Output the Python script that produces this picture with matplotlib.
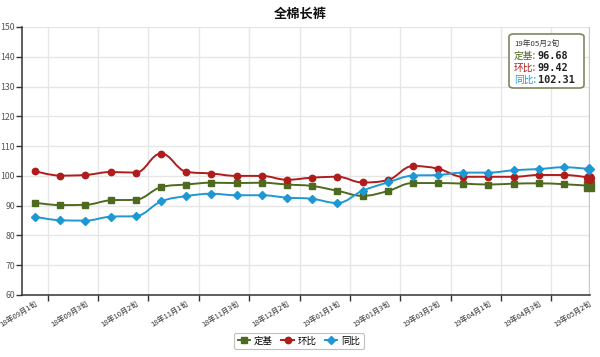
import numpy as np
import matplotlib
matplotlib.use("Agg")
import matplotlib.pyplot as plt
from matplotlib.path import Path
from matplotlib.patches import PathPatch, FancyBboxPatch
from matplotlib.lines import Line2D

plt.rcParams['font.family'] = ['Noto Sans CJK SC', 'DejaVu Sans']

title = "全棉长裤"
tick_labels = ["18年09月1旬", "18年09月3旬", "18年10月2旬", "18年11月1旬", "18年11月3旬",
               "18年12月2旬", "19年01月1旬", "19年01月3旬", "19年03月2旬", "19年04月1旬",
               "19年04月3旬", "19年05月2旬"]
series_names = ["定基", "环比", "同比"]
dingji = [91.0, 90.2, 90.3, 91.8, 92.0, 96.2, 97.1, 97.7, 97.6, 97.7, 97.1, 96.6,
          95.0, 93.3, 94.9, 97.6, 97.6, 97.4, 97.1, 97.4, 97.5, 97.2, 96.68]
huanbi = [101.6, 100.1, 100.3, 101.3, 101.1, 107.5, 101.4, 100.8, 100.0, 100.0, 98.7, 99.4,
          99.7, 97.8, 98.6, 103.3, 102.4, 99.7, 99.7, 99.7, 100.3, 100.3, 99.42]
tongbi = [86.3, 85.1, 85.0, 86.3, 86.5, 91.4, 93.2, 94.0, 93.5, 93.5, 92.7, 92.3,
          90.9, 95.0, 97.8, 100.1, 100.3, 101.1, 101.1, 101.9, 102.3, 102.9, 102.31]
tooltip_label = "19年05月2旬"

colors = ["#4E6A1F", "#B01C1C", "#1E98D3"]
markers = ["s", "o", "D"]
msizes = [4.3, 4.6, 3.6]

fig = plt.figure(figsize=(6, 3.57), dpi=100)
ax = fig.add_axes([22/600, 1-295/357, (590-22)/600, (295-27)/357])

def spline_path(xs, ys):
    n = len(xs)
    sm = 1.5
    den = sm + 1
    verts = [(xs[0], ys[0])]
    codes = [Path.MOVETO]
    lc = [None]*n
    rc = [None]*n
    for i in range(n):
        if 0 < i < n-1:
            px, py = xs[i], ys[i]
            lx, ly = xs[i-1], ys[i-1]
            nx, ny = xs[i+1], ys[i+1]
            lcx = (sm*px + lx)/den; lcy = (sm*py + ly)/den
            rcx = (sm*px + nx)/den; rcy = (sm*py + ny)/den
            corr = ((rcy - lcy)*(rcx - px))/(rcx - lcx) + py - rcy
            lcy += corr; rcy += corr
            if lcy > max(ly, py):
                lcy = max(ly, py); rcy = 2*py - lcy
            elif lcy < min(ly, py):
                lcy = min(ly, py); rcy = 2*py - lcy
            if rcy > max(ny, py):
                rcy = max(ny, py); lcy = 2*py - rcy
            elif rcy < min(ny, py):
                rcy = min(ny, py); lcy = 2*py - rcy
            lc[i] = (lcx, lcy); rc[i] = (rcx, rcy)
        else:
            lc[i] = (xs[i], ys[i]); rc[i] = (xs[i], ys[i])
    for i in range(1, n):
        verts += [rc[i-1], lc[i], (xs[i], ys[i])]
        codes += [Path.CURVE4]*3
    return Path(verts, codes)

x = np.arange(len(dingji))
for data, c, m, ms in zip([dingji, huanbi, tongbi], colors, markers, msizes):
    p = spline_path(list(x.astype(float)), list(data))
    ax.add_patch(PathPatch(p, fill=False, edgecolor=c, lw=1.4, zorder=3))
    ax.plot(x[:-1], data[:-1], linestyle='none', marker=m, color=c, ms=ms, zorder=4)
    ax.plot(x[-1:], data[-1:], linestyle='none', marker=m, color=c, ms=ms*1.55,
            markeredgecolor=c, zorder=5, clip_on=False)

# crosshair at hovered point
ax.axvline(x[-1], color="#c8c8c8", lw=1, zorder=2)

ax.set_xlim(-0.52, 22.03)
ax.set_ylim(60, 150)
ax.set_yticks(np.arange(60, 151, 10))
ax.yaxis.grid(True, color="#e6e6e6", lw=1)
ax.set_xticks(np.arange(0.5, 21, 2))
ax.set_xticklabels([])
ax.xaxis.grid(True, color="#e6e6e6", lw=1)
ax.set_axisbelow(True)
ax.tick_params(axis='y', labelsize=6.3, colors="#333333", length=4, width=1, pad=1,
               labelcolor="#555555")
ax.tick_params(axis='x', length=4, width=1, colors="#333333")
for i, lab in enumerate(tick_labels):
    ax.annotate(lab, xy=(2*i, 60), xycoords='data', xytext=(0, -3.5),
                textcoords='offset points', rotation=32, ha='right', va='top',
                rotation_mode='anchor', fontsize=5.3, color="#333333",
                annotation_clip=False)
for s in ["top", "right"]:
    ax.spines[s].set_visible(False)
ax.spines["left"].set_color("#333333")
ax.spines["bottom"].set_color("#333333")
ax.spines["left"].set_linewidth(1.1)
ax.spines["bottom"].set_linewidth(1.1)

fig.text(0.5, 1-14/357, title, ha='center', va='center', fontsize=9.5, fontweight='bold',
         color="#111111")

# tooltip
tb = FancyBboxPatch((509/600, 1-88/357), 75/600, 54/357,
                    boxstyle="round,pad=0,rounding_size=0.008",
                    transform=fig.transFigure, facecolor="white", edgecolor="#7d8760",
                    lw=1.2, zorder=10)
fig.patches.append(tb)
fig.text(514/600, 1-44/357, tooltip_label, fontsize=5.6, va='center', ha='left',
         color="#333333", zorder=11)
vals = [dingji[-1], huanbi[-1], tongbi[-1]]
for k, (nm, c, v) in enumerate(zip(series_names, colors, vals)):
    yy = 1-(56+12*k)/357
    fig.text(514/600, yy, nm + ":", fontsize=7, color=c, va='center', ha='left', zorder=11)
    fig.text(538/600, yy, f"{v:.2f}", fontsize=7.4, color="#222222", va='center', ha='left',
             family='DejaVu Sans Mono', fontweight='bold', zorder=11)

# legend
handles = [Line2D([0], [0], color=c, marker=m, ms=ms, lw=1.4) for c, m, ms in zip(colors, markers, msizes)]
leg = fig.legend(handles, series_names, loc='center', bbox_to_anchor=(299/600, 1-341/357),
                 ncol=3, fontsize=6.8, frameon=True, handlelength=1.3, columnspacing=0.9,
                 handletextpad=0.4, borderpad=0.4, fancybox=True)
leg.get_frame().set_edgecolor("#b0b0b0")
leg.get_frame().set_linewidth(0.8)

fig.savefig("out.png", dpi=100)
